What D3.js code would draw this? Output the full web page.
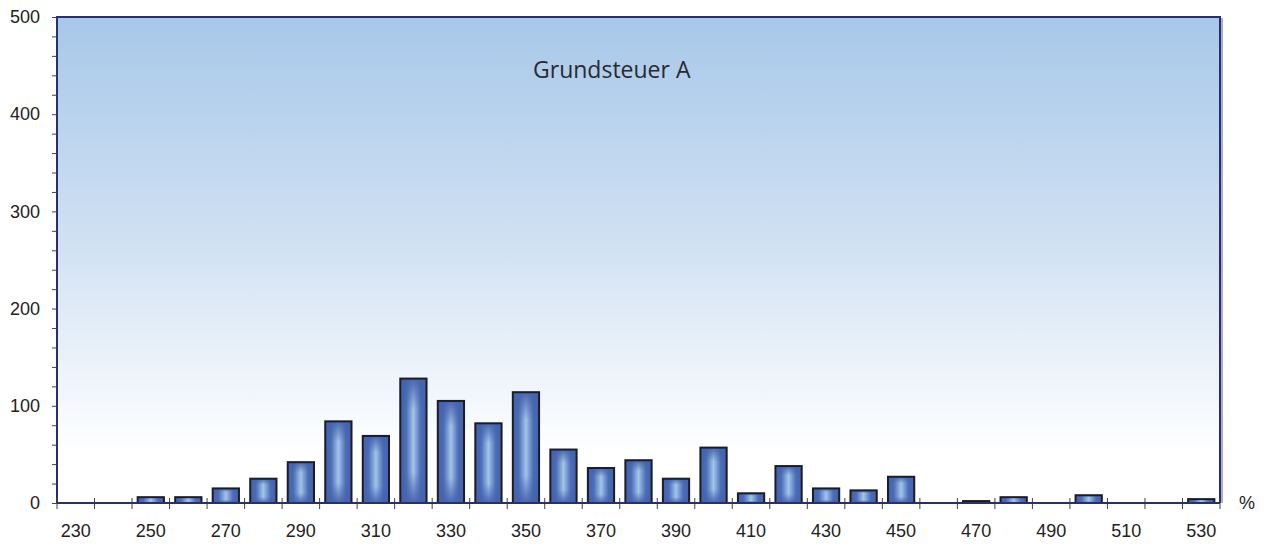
<!DOCTYPE html>
<html>
<head>
<meta charset="utf-8">
<script src="https://cdn.jsdelivr.net/npm/d3@7"></script>
<style>
  body { margin: 0; background: #fff; }
  svg { display: block; }
</style>
</head>
<body>
<div id="chart"></div>
<script>
const categories = [230, 240, 250, 260, 270, 280, 290, 300, 310, 320, 330, 340, 350, 360, 370,
  380, 390, 400, 410, 420, 430, 440, 450, 460, 470, 480, 490, 500, 510, 520, 530]
const counts = [0, 0, 6, 6, 15, 25, 42, 84, 69, 128, 105, 82, 114, 55, 36,
  44, 25, 57, 10, 38, 15, 13, 27, 0, 2, 6, 0, 8, 0, 0, 4]
const yTicks = [0, 100, 200, 300, 400, 500]
const xLabels = [230, 250, 270, 290, 310, 330, 350, 370, 390, 410, 430, 450, 470, 490, 510, 530]
const title = 'Grundsteuer A'
const unit = '%'

const W = 1268, H = 545
const M = { top: 17, right: 48, bottom: 42, left: 57 }
const innerW = W - M.left - M.right
const innerH = H - M.top - M.bottom

const svg = d3.select('#chart').append('svg').attr('width', W).attr('height', H)
const defs = svg.append('defs')

const bg = defs.append('linearGradient').attr('id', 'bg').attr('x1', 0).attr('y1', 0).attr('x2', 0).attr('y2', 1)
bg.append('stop').attr('offset', '0%').attr('stop-color', '#a7c8e9')
bg.append('stop').attr('offset', '45%').attr('stop-color', '#cfe0f3')
bg.append('stop').attr('offset', '90%').attr('stop-color', '#ffffff')

const hg = defs.append('linearGradient').attr('id', 'barH').attr('x1', 0).attr('y1', 0).attr('x2', 1).attr('y2', 0)
hg.append('stop').attr('offset', '0%').attr('stop-color', '#4462ae')
hg.append('stop').attr('offset', '22%').attr('stop-color', '#4b6cb6')
hg.append('stop').attr('offset', '50%').attr('stop-color', '#a2c5e9')
hg.append('stop').attr('offset', '78%').attr('stop-color', '#4b6cb6')
hg.append('stop').attr('offset', '100%').attr('stop-color', '#4462ae')

const vg = defs.append('linearGradient').attr('id', 'barV').attr('x1', 0).attr('y1', 0).attr('x2', 0).attr('y2', 1)
vg.append('stop').attr('offset', '0%').attr('stop-color', '#4462ae').attr('stop-opacity', 0.95)
vg.append('stop').attr('offset', '25%').attr('stop-color', '#4462ae').attr('stop-opacity', 0)
vg.append('stop').attr('offset', '75%').attr('stop-color', '#4462ae').attr('stop-opacity', 0)
vg.append('stop').attr('offset', '100%').attr('stop-color', '#4462ae').attr('stop-opacity', 0.95)

const g = svg.append('g').attr('transform', `translate(${M.left},${M.top})`)

const x = d3.scaleBand().domain(categories).range([0, innerW]).paddingInner(0.3).paddingOuter(0.15)
const y = d3.scaleLinear().domain([0, 500]).range([innerH, 0])

g.append('rect').attr('width', innerW).attr('height', innerH).attr('fill', 'url(#bg)')

// title
g.append('text')
  .attr('x', innerW * 0.477).attr('y', 61)
  .attr('text-anchor', 'middle')
  .attr('font-family', '"Open Sans", sans-serif')
  .attr('font-size', 23)
  .attr('fill', '#2a2a30')
  .text(title)

// bars
const bars = g.selectAll('g.bar').data(categories.map((c, i) => ({ c, v: counts[i] })).filter(d => d.v > 0))
  .join('g').attr('class', 'bar')
bars.append('rect')
  .attr('x', d => x(d.c)).attr('y', d => y(d.v))
  .attr('width', x.bandwidth()).attr('height', d => y(0) - y(d.v))
  .attr('fill', 'url(#barH)')
bars.append('rect')
  .attr('x', d => x(d.c)).attr('y', d => y(d.v))
  .attr('width', x.bandwidth()).attr('height', d => y(0) - y(d.v))
  .attr('fill', 'url(#barV)')
  .attr('stroke', '#1c1c22').attr('stroke-width', 2)

// frame
g.append('path')
  .attr('d', `M0,${innerH} V0 H${innerW} V${innerH}`)
  .attr('fill', 'none').attr('stroke', '#2a2d6e').attr('stroke-width', 2)
g.append('line').attr('x1', innerW + 2).attr('x2', innerW + 2).attr('y1', 1).attr('y2', innerH)
  .attr('stroke', '#8f92c8').attr('stroke-width', 1.5)

// y axis
const yAxis = g.append('g')
  .call(d3.axisLeft(y).tickValues(d3.range(0, 501, 20)).tickSize(5).tickPadding(12)
    .tickFormat(d => yTicks.includes(d) ? d : ''))
yAxis.select('.domain').remove()
yAxis.selectAll('line').attr('stroke', '#444')
yAxis.selectAll('text').attr('font-family', '"Liberation Sans", Arial, sans-serif')
  .attr('font-size', 18).attr('fill', '#222')

// x axis
const edges = categories.map(c => x(c) - x.step() * x.paddingInner() / 2).concat([innerW])
const xg = g.append('g').attr('transform', `translate(0,${innerH})`)
xg.selectAll('line.tick').data(edges).join('line').attr('class', 'tick')
  .attr('x1', d => d).attr('x2', d => d).attr('y1', -5).attr('y2', 6)
  .attr('stroke', '#444').attr('stroke-width', 1)
xg.append('line').attr('x1', 0).attr('x2', innerW).attr('stroke', '#2a2d6e').attr('stroke-width', 2)
xg.selectAll('text.lbl').data(xLabels).join('text').attr('class', 'lbl')
  .attr('x', d => x(d) + x.bandwidth() / 2).attr('y', 34)
  .attr('text-anchor', 'middle')
  .attr('font-family', '"Liberation Sans", Arial, sans-serif')
  .attr('font-size', 18).attr('fill', '#222')
  .text(d => d)

svg.append('text').attr('x', 1247).attr('y', M.top + innerH + 6)
  .attr('text-anchor', 'middle')
  .attr('font-family', '"Liberation Sans", Arial, sans-serif')
  .attr('font-size', 18).attr('fill', '#222')
  .text(unit)
</script>
</body>
</html>
